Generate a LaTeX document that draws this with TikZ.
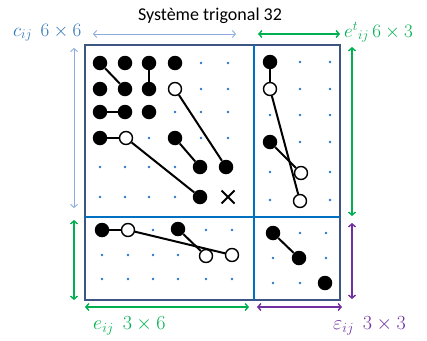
\documentclass[tikz,border=0pt]{standalone}
\usepackage{fix-cm}
\usepackage{fontspec}
\setmainfont{Carlito}
\usetikzlibrary{arrows.meta,shapes.misc}

\definecolor{labblue}{RGB}{46,117,182}
\definecolor{lightarr}{RGB}{143,170,220}
\definecolor{greenc}{RGB}{0,176,80}
\definecolor{purplec}{RGB}{112,48,160}
\definecolor{framec}{RGB}{61,85,130}
\definecolor{divblue}{RGB}{0,112,192}
\definecolor{dotblue}{RGB}{40,120,200}

\begin{document}
\begin{tikzpicture}[x=1pt,y=-1pt,
  full/.style={circle,fill=black,inner sep=0pt,minimum size=14.5pt},
  hollow/.style={circle,draw=black,line width=1.4pt,fill=white,inner sep=0pt,minimum size=13pt},
  link/.style={line width=2pt},
  dimarr/.style={<->,>={Straight Barb[length=3pt,width=7pt]}},
  lab/.style={anchor=base west,inner sep=0pt}]
  \useasboundingbox (0,0) rectangle (427,340);

  % frame and blocks
  \draw[framec,line width=1.6pt] (85,45) rectangle (340,300);
  \draw[divblue,line width=1.8pt] (254,45) -- (254,300);
  \draw[divblue,line width=1.8pt] (85,217) -- (340,217);

  % grid dots
  \foreach \x in {100,125,149,175,201,228}
    \foreach \y in {63,89,112,138,167,197}
      \fill[dotblue] (\x,\y) circle (1.3);
  \foreach \x in {270,300,330}
    \foreach \y in {62,89,115,142,172,200}
      \fill[dotblue] (\x,\y) circle (1.3);
  \foreach \x in {102,128,153,178,206,232}
    \foreach \y in {230,255,279}
      \fill[dotblue] (\x,\y) circle (1.3);
  \foreach \x in {273,300,326}
    \foreach \y in {233,258,283}
      \fill[dotblue] (\x,\y) circle (1.3);

  % c_ij block
  \node[full] (a11) at (100,63) {};
  \node[full] (a12) at (125,63) {};
  \node[full] (a13) at (149,63) {};
  \node[full] (a14) at (175,63) {};
  \node[full] (a21) at (100,89) {};
  \node[full] (a22) at (125,89) {};
  \node[full] (a23) at (149,89) {};
  \node[hollow] (a24) at (175,89) {};
  \node[full] (a31) at (100,112) {};
  \node[full] (a32) at (125,112) {};
  \node[full] (a33) at (149,112) {};
  \node[full] (a41) at (100,138) {};
  \node[hollow] (a42) at (126,138) {};
  \node[full] (a44) at (175,138) {};
  \node[full] (a55) at (200,167) {};
  \node[full] (a56) at (226,167) {};
  \node[full] (a65) at (200,197) {};
  \node[cross out,draw,line width=2pt,inner sep=0pt,minimum size=11pt] (a66) at (228,197) {};
  \draw[link] (a11) -- (a22);
  \draw[link] (a13) -- (a23);
  \draw[link] (a31) -- (a32);
  \draw[link] (a41) -- (a42);
  \draw[link] (a42) -- (a65);
  \draw[link] (a24) -- (a56);
  \draw[link] (a44) -- (a55);

  % e^t_ij block
  \node[full] (b11) at (270,62) {};
  \node[hollow] (b21) at (270,89) {};
  \node[full] (b41) at (270,142) {};
  \node[hollow] (b52) at (301,173) {};
  \node[hollow] (b62) at (300,201) {};
  \draw[link] (b11) -- (b21);
  \draw[link] (b21) -- (b62);
  \draw[link] (b41) -- (b52);

  % e_ij block
  \node[full] (c11) at (102,230) {};
  \node[hollow] (c12) at (128,230) {};
  \node[full] (c14) at (178,229) {};
  \node[hollow] (c25) at (206,256) {};
  \node[hollow] (c26) at (232,255) {};
  \draw[link] (c11) -- (c12);
  \draw[link] (c12) -- (c26);
  \draw[link] (c14) -- (c25);

  % epsilon_ij block
  \node[full] (d11) at (273,233) {};
  \node[full] (d22) at (299,258) {};
  \node[full] (d33) at (325,283) {};
  \draw[link] (d11) -- (d22);

  % dimension arrows
  \coordinate (t1) at (93,34);   \coordinate (t2) at (236,34);
  \coordinate (t3) at (258,34);  \coordinate (t4) at (340,34);
  \coordinate (l1) at (74,48);   \coordinate (l2) at (74,208);
  \coordinate (l3) at (74,220);  \coordinate (l4) at (74,300);
  \coordinate (r1) at (352,47);  \coordinate (r2) at (352,216);
  \coordinate (r3) at (352,223); \coordinate (r4) at (352,299);
  \coordinate (w1) at (85,307);  \coordinate (w2) at (249,307);
  \coordinate (w3) at (257,307); \coordinate (w4) at (342,307);
  \draw[dimarr,lightarr,line width=0.9pt] (t1) -- (t2);
  \draw[dimarr,lightarr,line width=0.9pt] (l1) -- (l2);
  \draw[dimarr,greenc,line width=1.4pt] (t3) -- (t4);
  \draw[dimarr,greenc,line width=1.4pt] (l3) -- (l4);
  \draw[dimarr,greenc,line width=1.4pt] (r1) -- (r2);
  \draw[dimarr,greenc,line width=1.4pt] (w1) -- (w2);
  \draw[dimarr,purplec,line width=1.4pt] (r3) -- (r4);
  \draw[dimarr,purplec,line width=1.4pt] (w3) -- (w4);

  % labels
  \node (title) at (210,16) {\fontsize{18}{21}\selectfont Système trigonal 32};
  \node[lab,labblue] (clab) at (13,36) {\fontsize{19}{22}\selectfont $c_{ij}\;\,6\times 6$};
  \node[lab,greenc] (etlab) at (344,37) {\fontsize{19}{22}\selectfont $e^{t}{}_{ij}\,6\times 3$};
  \node[lab,greenc] (elab) at (93,329) {\fontsize{20}{23}\selectfont $e_{ij}\;\,3\times 6$};
  \node[lab,purplec] (epslab) at (333,329) {\fontsize{20}{23}\selectfont $\varepsilon_{ij}\;\,3\times 3$};
\end{tikzpicture}
\end{document}
